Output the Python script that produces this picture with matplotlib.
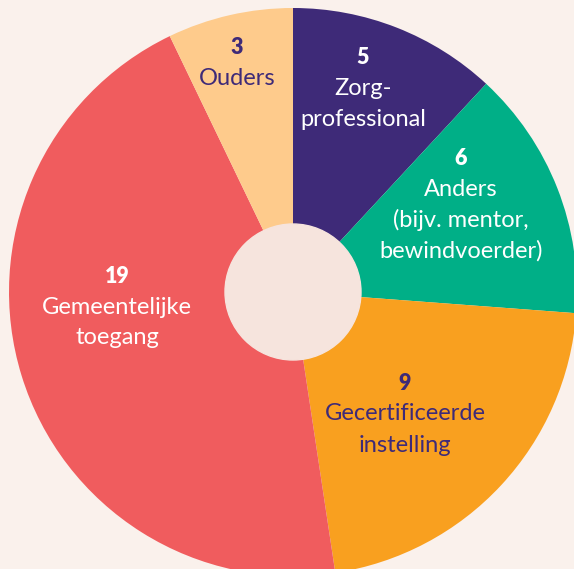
import numpy as np
import matplotlib.pyplot as plt

# Data
categories = ["Zorg-\nprofessional", "Anders\n(bijv. mentor,\nbewindvoerder)",
              "Gecertificeerde\ninstelling", "Gemeentelijke\ntoegang", "Ouders"]
values = [5, 6, 9, 19, 3]
colors = ["#3E2A78", "#00AF87", "#F9A01F", "#F05C5E", "#FECB8C"]
text_colors = ["white", "white", "#3E2A78", "white", "#3E2A78"]
label_pos = [(363, 57), (461, 158), (405, 383), (117, 276), (237, 47)]

bg = "#FAF1EC"
W, H = 574, 569
cx, cy = 293, H - 292

fig = plt.figure(figsize=(5.74, 5.69), dpi=100, facecolor=bg)
ax = fig.add_axes([0, 0, 1, 1])
ax.set_facecolor(bg)

ax.pie(values, colors=colors, startangle=90, counterclock=False,
       radius=284, center=(cx, cy), frame=True,
       wedgeprops=dict(linewidth=0))
ax.add_patch(plt.Circle((cx, cy), 68, color="#F6E4DD", zorder=5))

for val, cat, tc, (x, y) in zip(values, categories, text_colors, label_pos):
    ax.text(x, H - y, str(val), ha="center", va="center", color=tc,
            fontsize=15.5, fontweight="heavy", family="Lato")
    lines = cat.split("\n")
    for i, line in enumerate(lines):
        ax.text(x, H - y - 31 - i * 31, line, ha="center", va="center",
                color=tc, fontsize=17, family="Lato")

ax.set_xlim(0, W)
ax.set_ylim(0, H)
ax.set_aspect("equal")
ax.axis("off")
plt.savefig("out.png", dpi=100, facecolor=bg)
